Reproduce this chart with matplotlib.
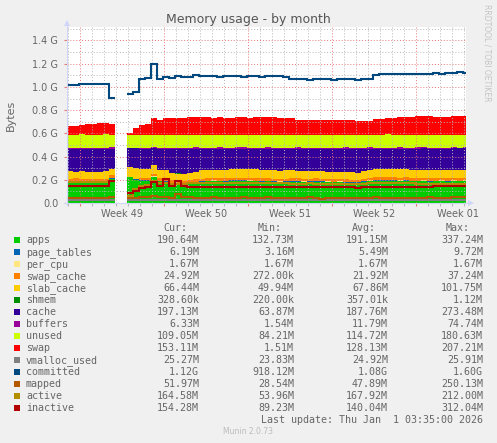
import numpy as np
import matplotlib
matplotlib.use('Agg')
import matplotlib.pyplot as plt
from matplotlib.patches import Rectangle, Polygon
from matplotlib.lines import Line2D

nan = np.nan

# ---- data (MiB), half-day samples, gap = no data ----
apps = [188,190,186,184,186,182,184,215, nan,nan,
        228,205,198,195,228,190,185,172,168,170,
        172,180,188,190,192,190,188,194,196,194,
        192,190,188,190,186,184,186,188,186,184,
        186,188,186,184,182,184,180,178,176,186,
        192,196,194,196,194,192,194,190,190,192,
        188,190,192,188,192,190,190.64]
page_tables = [5.2,5.3,5.2,5.1,5.2,5.3,5.2,5.4, nan,nan,
        3.2,4.1,5.0,5.3,5.6,5.5,5.4,5.5,5.6,5.5,
        5.4,5.5,5.6,5.5,5.5,5.4,5.6,5.5,5.7,5.5,
        5.4,5.5,5.6,5.5,5.4,5.5,5.6,5.5,5.5,5.4,
        5.5,5.6,5.5,5.4,5.5,5.6,5.5,5.5,5.4,5.6,
        5.5,5.8,5.7,5.8,5.9,5.8,5.7,5.8,5.9,5.8,
        5.8,5.7,5.9,5.8,6.0,5.9,6.19]
per_cpu = [1.67,1.67,1.67,1.67,1.67,1.67,1.67,1.67, nan,nan,
        1.67,1.67,1.67,1.67,1.67,1.67,1.67,1.67,1.67,1.67,
        1.67,1.67,1.67,1.67,1.67,1.67,1.67,1.67,1.67,1.67,
        1.67,1.67,1.67,1.67,1.67,1.67,1.67,1.67,1.67,1.67,
        1.67,1.67,1.67,1.67,1.67,1.67,1.67,1.67,1.67,1.67,
        1.67,1.67,1.67,1.67,1.67,1.67,1.67,1.67,1.67,1.67,
        1.67,1.67,1.67,1.67,1.67,1.67,1.67]
swap_cache = [21,21,22,21,20,21,22,21, nan,nan,
        0.3,5,12,16,20,20,21,20,19,20,
        20,21,20,20,19,20,21,20,20,21,
        20,22,22,23,22,21,22,22,23,22,
        22,21,22,23,22,22,21,22,23,22,
        22,24,24,25,24,23,24,25,24,24,
        25,24,23,24,25,24,24.92]
slab_cache = [64.1,58.1,65.1,64.1,60.1,66.1,67.1,54.1, nan,nan,
        83.8,91.2,79.8,78.8,82.8,74.8,74.8,66.8,65.8,58.8,
        61.8,63.8,71.8,69.8,72.8,74.8,76.8,75.8,78.8,80.8,
        77.8,77.8,74.8,72.8,76.8,73.8,71.8,69.8,66.8,68.8,
        66.8,64.8,66.8,62.8,64.8,62.8,61.8,63.8,60.8,66.8,
        70.8,69.5,71.5,69.5,71.5,73.5,71.5,70.5,70.5,68.5,
        67.5,70.5,68.5,67.5,68.5,65.5,66.44]
shmem = [0.36,0.35,0.37,0.36,0.35,0.36,0.38,0.36, nan,nan,
        0.22,0.28,0.33,0.35,0.36,0.36,0.35,0.36,0.37,0.36,
        0.35,0.36,0.36,0.37,0.36,0.35,0.36,0.36,0.37,0.36,
        0.35,0.36,0.36,0.37,0.36,0.35,0.36,0.36,0.37,0.36,
        0.35,0.36,0.36,0.37,0.36,0.35,0.36,0.36,0.37,0.36,
        0.35,0.34,0.33,0.34,0.33,0.34,0.33,0.34,0.33,0.34,
        0.33,0.34,0.33,0.34,0.33,0.34,0.33]
cache = [194.3,200.3,194.3,199.3,203.3,198.3,193.3,181.3, nan,nan,
        165.5,174.3,181.3,179.3,142.3,185.3,188.3,212.3,218.3,220.3,
        216.3,207.3,189.3,185.3,182.3,185.3,183.3,176.3,174.3,176.3,
        177.3,175.3,183.3,185.3,182.3,189.3,186.3,188.3,196.3,194.3,
        192.3,195.3,193.3,197.3,200.3,198.3,206.3,204.3,207.3,194.3,
        186.3,181.3,183.3,180.3,182.3,184.3,181.3,184.3,187.3,189.3,
        191.3,188.3,185.3,192.3,190.3,193.3,197.13]
buffers = [12,12,13,12,11,12,13,12, nan,nan,
        2,5,9,10,10,11,10,10,9,10,
        11,12,12,13,12,12,11,12,13,12,
        12,12,11,12,13,12,12,11,12,12,
        13,12,12,11,12,12,13,12,12,11,
        12,9,9,10,9,9,8,9,10,9,
        9,8,9,9,8,7,6.33]
unused = [116,114,117,115,113,116,118,112, nan,nan,
        118,116,114,116,112,115,117,114,113,116,
        115,112,114,118,116,113,115,117,114,112,
        116,118,115,113,116,114,117,115,112,114,
        116,113,115,117,114,116,113,115,117,114,
        112,115,113,116,114,112,115,117,114,112,
        115,113,116,114,111,113,109.05]
swap = [77,78,84,97,98,99,97,92, nan,nan,
        15,58,83,98,150,127,145,150,152,151,
        153,152,154,153,152,154,151,150,152,151,
        150,152,153,155,152,151,150,146,130,128,
        127,128,126,127,128,127,126,128,122,119,
        120,140,142,144,150,155,156,157,160,161,
        160,159,161,160,166,168,165]
vmalloc_used = [24.3,24.4,24.3,24.5,24.4,24.3,24.5,24.4, nan,nan,
        23.9,24.2,24.6,24.8,25.0,24.9,25.0,25.1,25.0,24.9,
        25.0,24.9,25.0,25.1,25.0,24.9,25.0,25.0,25.1,25.0,
        24.9,25.0,25.1,25.0,24.9,25.0,25.1,25.0,25.0,24.9,
        25.0,25.1,25.0,24.9,25.0,25.1,25.0,25.0,24.9,25.0,
        25.1,25.2,25.1,25.2,25.3,25.2,25.1,25.2,25.3,25.2,
        25.2,25.3,25.2,25.1,25.2,25.3,25.27]
committed = [1037,1040,1050,1051,1050,1050,1051,927, nan,nan,
        960,982,1098,1100,1229,1096,1115,1104,1120,1110,
        1112,1128,1122,1118,1116,1115,1117,1116,1118,1115,
        1116,1117,1114,1116,1118,1117,1115,1092,1090,1091,
        1089,1090,1091,1090,1089,1090,1091,1090,1089,1091,
        1095,1130,1140,1141,1140,1142,1141,1140,1142,1141,
        1142,1143,1142,1148,1150,1154,1147]
mapped = [46,47,45,46,44,45,46,50, nan,nan,
        40,45,50,55,60,52,50,48,80,52,
        49,48,47,48,49,48,47,46,48,49,
        48,47,48,49,48,47,48,47,46,48,
        49,40,38,45,47,48,47,46,48,47,
        48,49,48,47,46,47,42,40,46,48,
        49,48,47,48,49,50,51.97]
active = [185,186,184,185,187,186,185,190, nan,nan,
        60,120,150,160,190,175,172,170,168,170,
        172,174,175,176,175,174,176,177,178,176,
        175,174,173,172,174,173,172,171,170,171,
        172,171,170,169,170,171,170,169,168,170,
        172,174,175,176,175,174,173,172,171,170,
        169,168,167,166,165,165,164.58]
inactive = [148,147,149,148,146,147,150,190, nan,nan,
        90,110,130,145,185,150,210,150,195,148,
        145,144,143,142,141,140,142,143,141,140,
        139,140,141,142,140,139,138,140,141,139,
        138,137,139,140,141,139,138,137,136,138,
        140,141,142,143,142,141,140,142,143,144,
        145,146,147,148,150,152,154.28]

legend_names = ['apps','page_tables','per_cpu','swap_cache','slab_cache','shmem',
                'cache','buffers','unused','swap','vmalloc_used','committed',
                'mapped','active','inactive']
legend_colors = ['#00CC00','#0066B3','#FFE680','#FF8000','#FFCC00','#008F00',
                 '#330099','#990099','#CCFF00','#FF0000','#808080','#00487D',
                 '#B35A00','#B38F00','#B30000']
cur_vals = ['190.64M','6.19M','1.67M','24.92M','66.44M','328.60k','197.13M','6.33M',
            '109.05M','153.11M','25.27M','1.12G','51.97M','164.58M','154.28M']
min_vals = ['132.73M','3.16M','1.67M','272.00k','49.94M','220.00k','63.87M','1.54M',
            '84.21M','1.51M','23.83M','918.12M','28.54M','53.96M','89.23M']
avg_vals = ['191.15M','5.49M','1.67M','21.92M','67.86M','357.01k','187.76M','11.79M',
            '114.72M','128.13M','24.92M','1.08G','47.89M','167.92M','140.04M']
max_vals = ['337.24M','9.72M','1.67M','37.24M','101.75M','1.12M','273.48M','74.74M',
            '180.63M','207.21M','25.91M','1.60G','250.13M','212.00M','312.04M']
week_labels = ['Week 49','Week 50','Week 51','Week 52','Week 01']
y_ticks = [0.0,0.2,0.4,0.6,0.8,1.0,1.2,1.4]
y_labels = ['0.0','0.2 G','0.4 G','0.6 G','0.8 G','1.0 G','1.2 G','1.4 G']

# ---- figure ----
W, H = 497, 443
fig = plt.figure(figsize=(W/100, H/100), dpi=100, facecolor='#F0F0F0')
L, R, T, B = 67, 466, 27, 203
ax = fig.add_axes([L/W, 1-B/H, (R-L)/W, (B-T)/H])
ax.set_facecolor('white')
for s in ax.spines.values():
    s.set_visible(False)

TEXT = '#666666'
span_days = (R-L)/12.0
N = len(apps)
t0 = np.arange(N)*0.5
t1 = np.minimum(t0+0.5, span_days)
xs = np.column_stack([t0, t1]).ravel()

def st(v):
    return np.repeat(np.asarray(v, float)/1024.0, 2)

stack = [apps, page_tables, per_cpu, swap_cache, slab_cache, shmem, cache, buffers, unused, swap]
base = np.zeros(2*N)
for vals, c in zip(stack, legend_colors[:10]):
    top = base + st(vals)
    ax.fill_between(xs, base, top, color=c, linewidth=0, zorder=1)
    base = top

ax.set_xlim(0, span_days)
ax.set_ylim(0, (B-T)/116.1)

# grid
week0 = (80-L)/12.0
for k in range(0, 40):
    d = week0 - 1 + k
    if 0 < d < span_days:
        major = abs(((d - week0) / 7.0) - round((d - week0) / 7.0)) < 1e-6
        ax.axvline(d, color='#E87878' if major else '#B8B8B8', lw=0.7,
                   ls=(0, (1, 2)), zorder=2)
for k in range(1, 16):
    yv = k*0.1
    major = (k % 2 == 0)
    ax.axhline(yv, color='#E87878' if major else '#B8B8B8', lw=0.7,
               ls=(0, (1, 2)), zorder=2)

lines = [vmalloc_used, committed, mapped, active, inactive]
for vals, c in zip(lines, legend_colors[10:]):
    ax.plot(xs, st(vals), color=c, lw=1.5, zorder=3, solid_joinstyle='miter',
            solid_capstyle='butt')

# ticks
ax.set_yticks(y_ticks)
ax.set_yticklabels(y_labels)
ax.tick_params(axis='y', length=2, width=0.8, color='#E87878', labelcolor=TEXT,
               labelsize=7, pad=4.3)
ax.set_xticks([week0 + 7*k for k in range(5)])
ax.set_xticklabels([])
ax.set_xticks([week0 - 1 + k for k in range(34) if 0 < week0 - 1 + k < span_days], minor=True)
ax.tick_params(axis='x', which='major', length=2, width=0.8, color='#E87878')
ax.tick_params(axis='x', which='minor', length=2, width=0.8, color='#B8B8B8')
for k, lbl in enumerate(week_labels):
    ax.text(week0 + 3.5 + 7*k, -(216.5-B)/(B-T), lbl, transform=ax.get_xaxis_transform(),
            ha='center', va='baseline', fontsize=7, color=TEXT)

def fx(x): return x/W
def fy(y): return 1 - y/H

AX = '#CFD6F8'
fig.add_artist(Line2D([fx(L), fx(L)], [fy(B+2), fy(24)], color=AX, lw=0.8))
fig.add_artist(Line2D([fx(L-3), fx(470)], [fy(B), fy(B)], color=AX, lw=0.8))
fig.add_artist(Polygon([[fx(L-3), fy(26)], [fx(L+3), fy(26)], [fx(L), fy(20)]],
                       closed=True, color=AX, lw=0))
fig.add_artist(Polygon([[fx(468), fy(B-3)], [fx(468), fy(B+3)], [fx(474), fy(B)]],
                       closed=True, color=AX, lw=0))

fig.text(fx(248), fy(19), 'Memory usage - by month', ha='center', va='center',
         fontsize=9, color='#555555')
fig.text(fx(11), fy(115), 'Bytes', ha='center', va='center', rotation=90,
         fontsize=8, color=TEXT)
fig.text(fx(487), fy(53), 'RRDTOOL / TOBI OETIKER', ha='center', va='center',
         rotation=270, fontsize=5.5, color='#C4C4C4')

# legend
MONO = 'DejaVu Sans Mono'
LS = 7.2
for xr, h in zip([187, 282, 376, 470], ['Cur:', 'Min:', 'Avg:', 'Max:']):
    fig.text(fx(xr), fy(231), h, ha='right', va='baseline', family=MONO,
             fontsize=LS, color=TEXT)
for i, name in enumerate(legend_names):
    yb = 243 + 12*i
    fig.add_artist(Rectangle((fx(14), fy(yb)), 6/W, 6/H, transform=fig.transFigure,
                             facecolor=legend_colors[i], edgecolor='none'))
    fig.text(fx(26), fy(yb), name, ha='left', va='baseline', family=MONO,
             fontsize=LS, color=TEXT)
    for xr, col in zip([199, 294, 388, 483], [cur_vals, min_vals, avg_vals, max_vals]):
        fig.text(fx(xr), fy(yb), col[i], ha='right', va='baseline', family=MONO,
                 fontsize=LS, color=TEXT)
fig.text(fx(483), fy(423), 'Last update: Thu Jan  1 03:35:00 2026', ha='right',
         va='baseline', family=MONO, fontsize=LS, color=TEXT)
fig.text(fx(248), fy(432), 'Munin 2.0.73', ha='center', va='center',
         fontsize=5.5, color='#BBBBBB')

fig.savefig('out.png', dpi=100, facecolor=fig.get_facecolor())
